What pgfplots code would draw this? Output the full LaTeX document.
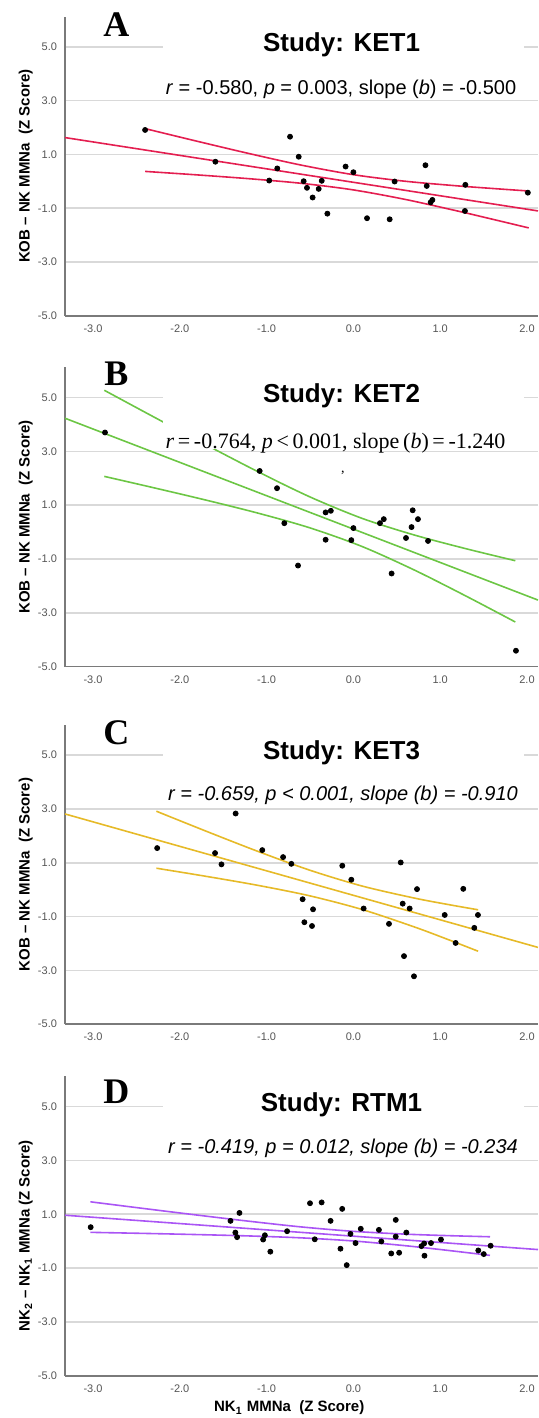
\documentclass[border=0pt]{standalone}
\usepackage{pgfplots}
\pgfplotsset{compat=1.18}
\usepackage{fontspec}
\setmainfont{Liberation Sans}
\newfontfamily\serif{Liberation Serif}
\definecolor{cA}{HTML}{E41E50}
\definecolor{cB}{HTML}{6CC644}
\definecolor{cC}{HTML}{E6BA28}
\definecolor{cD}{HTML}{AA55F5}
\definecolor{tick}{HTML}{555555}
\definecolor{gridc}{HTML}{D9D9D9}
\definecolor{axc}{HTML}{7A7A7A}
\pgfplotsset{
  panel/.style={
    scale only axis, width=236.5pt, height=149.6pt,
    xmin=-3.323, xmax=2.127, ymin=-5, ymax=6.12,
    clip mode=individual,
    axis x line*=bottom, axis y line*=left,
    axis line style={draw=axc, line width=0.8pt, -},
    xtick={-3,-2,...,2}, ytick={-5,-3,...,5},
    major tick length=0pt,
    ymajorgrids, grid style={draw=gridc, line width=0.8pt},
    tick label style={font=\fontsize{5.5}{6}\selectfont, text=tick},
    xticklabel style={yshift=-1pt},
    yticklabel style={xshift=-0.5pt},
    /pgf/number format/fixed, /pgf/number format/fixed zerofill,
    /pgf/number format/precision=1, /pgf/number format/assume math mode=true,
    every axis y label/.style={at={(axis description cs:-0.0831,0.5)}, rotate=90, anchor=center,
      font=\bfseries\fontsize{7.5}{8}\selectfont},
    anchor=north west,
  },
  fit/.style={line width=0.8pt, no markers},
  band/.style={line width=0.8pt, no markers, smooth},
  pts/.style={only marks, mark=*, mark size=1.25pt, black},
}
\newcommand{\whitebox}{\fill[white] (axis cs:-2.19,3.07) rectangle (axis cs:1.96,6.12);}
\newcommand{\ttl}[1]{\node[font=\bfseries\fontsize{13}{14}\selectfont] at (axis cs:-0.137,5.08) {#1};}
\newcommand{\letter}[2]{\node[font=\serif\bfseries\fontsize{18}{18}\selectfont] at (axis cs:-2.73,#2) {#1};}
\begin{document}
\begin{tikzpicture}
\useasboundingbox (0,0) rectangle (269pt,709pt);
% ---------------- A ----------------
\begin{axis}[panel, at={(32.5pt,700.65pt)}, ylabel={KOB -- NK MMNa \ (Z Score)}]
\addplot[fit, cA] coordinates {(-3.323,1.627) (2.127,-1.099)};
\addplot[band, cA] coordinates {(-2.4,1.96) (-1.8,1.49) (-1.2,1.032) (-0.6,0.603) (0,0.248) (0.6,0.003) (1.2,-0.168) (1.6,-0.264) (2.02,-0.359)};
\addplot[band, cA] coordinates {(-2.4,0.37) (-1.8,0.24) (-1.2,0.098) (-0.6,-0.073) (0,-0.318) (0.6,-0.673) (1.2,-1.102) (1.6,-1.406) (2.02,-1.73)};
\whitebox
\addplot[pts] coordinates {(-2.40,1.91) (-1.59,0.73) (-0.73,1.66) (-0.63,0.915) (-0.877,0.48) (-0.97,0.03) (-0.573,0.006) (-0.535,-0.24) (-0.365,0.02) (-0.40,-0.28) (-0.47,-0.60) (-0.30,-1.20) (-0.09,0.55) (0.00,0.34) (0.157,-1.37) (0.418,-1.41) (0.475,-0.006) (0.83,0.60) (0.845,-0.17) (0.89,-0.78) (0.91,-0.69) (1.29,-0.13) (1.285,-1.10) (2.01,-0.42)};
\ttl{Study: KET1}
\letter{A}{5.81}
\node[font=\fontsize{10}{11}\selectfont] at (axis cs:-0.143,3.42) {\textit{r} = -0.580, \textit{p} = 0.003, slope (\textit{b}) = -0.500};
\end{axis}
% ---------------- B ----------------
\begin{axis}[panel, at={(32.5pt,525.3pt)}, ylabel={KOB -- NK MMNa \ (Z Score)}]
\addplot[fit, cB] coordinates {(-3.323,4.2305) (2.127,-2.5275)};
\addplot[band, cB] coordinates {(-2.87,5.269) (-2.3,4.278) (-1.7,3.247) (-1.1,2.244) (-0.5,1.305) (0.1,0.509) (0.7,-0.108) (1.3,-0.621) (1.866,-1.065)};
\addplot[band, cB] coordinates {(-2.87,2.069) (-2.3,1.646) (-1.7,1.189) (-1.1,0.704) (-0.5,0.155) (0.1,-0.537) (0.7,-1.408) (1.3,-2.383) (1.866,-3.343)};
\whitebox
\addplot[pts] coordinates {(-2.862,3.70) (-1.08,2.27) (-0.88,1.63) (-0.796,0.33) (-0.638,-1.245) (-0.32,0.73) (-0.26,0.79) (-0.32,-0.285) (0.0,0.148) (-0.024,-0.30) (0.306,0.33) (0.35,0.48) (0.44,-1.54) (0.683,0.81) (0.744,0.48) (0.67,0.185) (0.606,-0.22) (0.86,-0.33) (1.873,-4.41)};
\ttl{Study: KET2}
\letter{B}{5.90}
\node[font=\serif\fontsize{11}{12}\selectfont] at (axis cs:-0.206,3.31) {\textit{r}\,=\,-0.764, \textit{p}\,<\,0.001, slope\,(\textit{b})\,=\,-1.240};
\node[font=\serif\fontsize{7}{8}\selectfont] at (axis cs:-0.12,2.21) {,};
\end{axis}
% ---------------- C ----------------
\begin{axis}[panel, at={(32.5pt,346.5pt)}, ylabel={KOB -- NK MMNa \ (Z Score)}]
\addplot[fit, cC] coordinates {(-3.323,2.814) (2.127,-2.146)};
\addplot[band, cC] coordinates {(-2.27,2.915) (-1.7,2.177) (-1.1,1.422) (-0.5,0.721) (0.1,0.135) (0.7,-0.311) (1.1,-0.557) (1.437,-0.748)};
\addplot[band, cC] coordinates {(-2.27,0.797) (-1.7,0.497) (-1.1,0.160) (-0.5,-0.231) (0.1,-0.737) (0.7,-1.383) (1.1,-1.865) (1.437,-2.288)};
\whitebox
\addplot[pts] coordinates {(-2.261,1.545) (-1.357,2.83) (-1.594,1.36) (-1.52,0.94) (-1.05,1.47) (-0.81,1.21) (-0.715,0.96) (-0.585,-0.355) (-0.465,-0.73) (-0.565,-1.21) (-0.477,-1.35) (-0.128,0.89) (-0.024,0.37) (0.118,-0.70) (0.41,-1.27) (0.545,1.01) (0.568,-0.52) (0.648,-0.70) (0.733,0.02) (0.583,-2.47) (0.698,-3.22) (1.052,-0.94) (1.266,0.03) (1.178,-1.98) (1.393,-1.42) (1.435,-0.94)};
\ttl{Study: KET3}
\letter{C}{5.83}
\node[font=\itshape\fontsize{10}{11}\selectfont] at (axis cs:-0.12,3.51) {r = -0.659, p < 0.001, slope (b) = -0.910};
\end{axis}
% ---------------- D ----------------
\begin{axis}[panel, at={(32.5pt,170.75pt)},
  ylabel={NK\textsubscript{2} -- NK\textsubscript{1} MMNa (Z Score)},
  ylabel style={at={(axis description cs:-0.0831,0.467)}},
  xlabel={NK\textsubscript{1} MMNa \ (Z Score)},
  xlabel style={at={(axis description cs:0.474,-0.108)}, anchor=center, font=\bfseries\fontsize{7.5}{8}\selectfont}]
\addplot[fit, cD] coordinates {(-3.323,0.964) (2.127,-0.312)};
\addplot[band, cD] coordinates {(-3.03,1.463) (-2.4,1.208) (-1.8,0.970) (-1.2,0.740) (-0.6,0.529) (0,0.365) (0.6,0.261) (1.1,0.205) (1.574,0.164)};
\addplot[band, cD] coordinates {(-3.03,0.328) (-2.4,0.288) (-1.8,0.245) (-1.2,0.194) (-0.6,0.123) (0,0.007) (0.6,-0.169) (1.1,-0.347) (1.574,-0.528)};
\whitebox
\addplot[pts] coordinates {(-3.027,0.52) (-1.416,0.755) (-1.313,1.05) (-1.36,0.32) (-1.34,0.15) (-1.02,0.22) (-1.04,0.06) (-0.957,-0.39) (-0.764,0.37) (-0.50,1.41) (-0.366,1.44) (-0.445,0.07) (-0.263,0.755) (-0.129,1.20) (-0.149,-0.28) (-0.077,-0.89) (-0.034,0.27) (0.025,-0.07) (0.085,0.46) (0.294,0.42) (0.322,-0.01) (0.436,-0.456) (0.488,0.79) (0.488,0.17) (0.527,-0.43) (0.61,0.32) (0.784,-0.185) (0.815,-0.085) (0.819,-0.54) (0.894,-0.07) (1.009,0.06) (1.439,-0.345) (1.502,-0.48) (1.581,-0.17)};
\ttl{Study: RTM1}
\letter{D}{5.56}
\node[font=\itshape\fontsize{10}{11}\selectfont] at (axis cs:-0.12,3.46) {r = -0.419, p = 0.012, slope (b) = -0.234};
\end{axis}
\end{tikzpicture}
\end{document}
